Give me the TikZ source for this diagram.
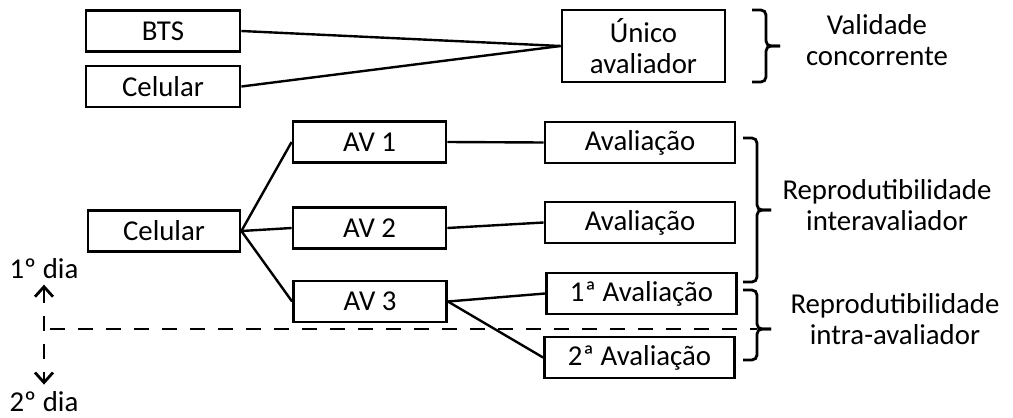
\documentclass[tikz,border=0pt]{standalone}
\usepackage{fontspec}
\setmainfont{Carlito}
\usetikzlibrary{arrows.meta}

\begin{document}
\begin{tikzpicture}[x=0.5pt, y=-0.5pt, font=\fontsize{14.4}{15.2}\selectfont,
  box/.style={draw, rectangle, line width=1.4pt, minimum width=77pt,
              minimum height=20.5pt, inner sep=2pt, align=center},
  wbox/.style={box, minimum width=95pt},
  link/.style={line width=1.2pt},
  cut/.style={line width=1.4pt, dash pattern=on 7.5pt off 6.5pt},
  brc/.style={line width=1.4pt, rounded corners=2.5pt},
  lbl/.style={align=center, inner sep=2pt}]

\useasboundingbox (0,0) rectangle (1013,418);

\node[box] (bts) at (163,31) {BTS};
\node[box] (cel) at (163,86.5) {Celular};
\node[box, minimum width=81.5pt, minimum height=36pt] (unico) at (643.5,46) {Único\\avaliador};
\draw[link] (bts.east) -- (unico.west);
\draw[link] (cel.east) -- (unico.west);

\node[box, minimum width=76pt] (cel2) at (164,231) {Celular};
\node[box, minimum width=76.5pt] (av1) at (369.5,142) {AV 1};
\node[box, minimum width=76.5pt] (av2) at (369.5,228) {AV 2};
\node[box, minimum width=76.5pt] (av3) at (370,301.5) {AV 3};
\draw[link] (cel2.east) -- (av1.west);
\draw[link] (cel2.east) -- (av2.west);
\draw[link] (cel2.east) -- (av3.west);

\node[wbox] (ev1) at (640,142.5) {Avaliação};
\node[wbox] (ev2) at (640,222.5) {Avaliação};
\node[wbox] (ev3) at (641.5,293.5) {1ª Avaliação};
\node[wbox] (ev4) at (639.5,357.5) {2ª Avaliação};
\draw[link] (av1.east) -- (ev1.west);
\draw[link] (av2.east) -- (ev2.west);
\draw[link] (av3.east) -- (ev3.west);
\draw[link] (av3.east) -- (ev4.west);

\coordinate (cutL) at (50,329);
\coordinate (cutR) at (757,329);
\draw[cut] (cutL) -- (cutR);

\node[lbl, anchor=base] (d1) at (44,278) {1º dia};
\node[lbl, anchor=base] (d2) at (44,411) {2º dia};
\draw[cut, {Straight Barb[length=5pt, width=9pt]}-{Straight Barb[length=5pt, width=9pt]},
      shorten <=1pt, shorten >=1pt] (d1.south) -- (d2.north);

\foreach \xl/\yt/\ym/\yb in {752/10/46/82, 743/138/210/282, 743/290/329/360} {
  \draw[brc] (\xl,\yt) -- ({\xl+14},\yt) -- ({\xl+14},\ym) -- ({\xl+28},\ym);
  \draw[brc] (\xl,\yb) -- ({\xl+14},\yb) -- ({\xl+14},\ym) -- ({\xl+28},\ym);
}

\node[lbl] (val) at (877,40) {Validade\\concorrente};
\node[lbl] (inter) at (887,205) {Reprodutibilidade\\interavaliador};
\node[lbl] (intra) at (895,319) {Reprodutibilidade\\intra-avaliador};
\end{tikzpicture}
\end{document}
